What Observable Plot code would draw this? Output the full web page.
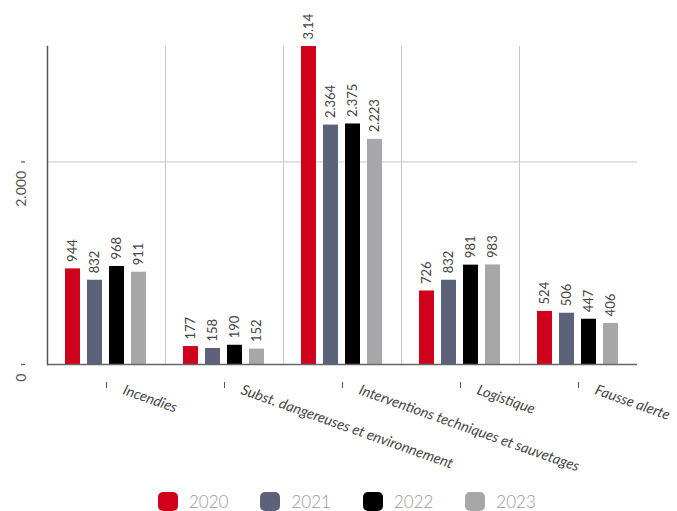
<!DOCTYPE html>
<html><head><meta charset="utf-8">
<script src="https://cdn.jsdelivr.net/npm/d3@7"></script>
<script src="https://cdn.jsdelivr.net/npm/@observablehq/plot@0.6"></script>
<style>
body{margin:0;background:#fff;font-family:Lato,sans-serif;}
#chart{position:relative;width:677px;height:511px;overflow:hidden}
#legend{position:absolute;left:158px;top:491px;height:20px;display:flex;align-items:center;}
.item{display:flex;align-items:center;margin-right:32px}
.sw{width:20px;height:19px;border-radius:5px;margin-right:11px}
.lb{font-size:17px;font-weight:300;color:#999;}
</style></head><body><div id="chart"></div><script>
const categories = ["Incendies","Subst. dangereuses et environnement","Interventions techniques et sauvetages","Logistique","Fausse alerte"];
const years = ["2020","2021","2022","2023"];
const values2020 = [944,177,3140,726,524];
const values2021 = [832,158,2364,832,506];
const values2022 = [968,190,2375,981,447];
const values2023 = [911,152,2223,983,406];
const labels2020 = ["944","177","3.14","726","524"];
const labels2021 = ["832","158","2.364","832","506"];
const labels2022 = ["968","190","2.375","981","447"];
const labels2023 = ["911","152","2.223","983","406"];
const colors = ["#d0021b","#5c6279","#000000","#a7a7a9"];
const yTicks = [0,2000];
const yTickLabels = ["0","2.000"];

const series = [values2020, values2021, values2022, values2023];
const labels = [labels2020, labels2021, labels2022, labels2023];
const rows = [];
years.forEach((y, i) => categories.forEach((c, j) => rows.push({category:c, year:y, value:series[i][j], label:labels[i][j]})));

const plot = Plot.plot({
  width: 677, height: 488,
  marginLeft: 46, marginRight: 39, marginTop: 46, marginBottom: 124,
  fx: {domain: categories, padding: 0, axis: null, label: null},
  x: {domain: years, paddingInner: 0.304, paddingOuter: 0.726, axis: null},
  y: {domain: [0, 3140], axis: null, label: null},
  color: {domain: years, range: colors},
  style: {fontFamily: "Lato, sans-serif", overflow: "visible", background: "#fff"},
  marks: [
    Plot.ruleY([2000], {stroke: "#c8c8c8"}),
    Plot.frame({anchor: "left", stroke: "#c8c8c8", strokeOpacity: 1}),
    Plot.barY(rows, {fx: "category", x: "year", y: "value", fill: "year"}),
    Plot.text(rows, {fx: "category", x: "year", y: "value", text: "label", rotate: -90, textAnchor: "start", dy: -7, fontSize: 13, fill: "#444"}),
    Plot.frame({anchor: "left", stroke: "#555", strokeWidth: 1.5, strokeOpacity: 1, facetAnchor: "left"}),
    Plot.ruleY([0], {stroke: "#666", strokeWidth: 1.5}),
    Plot.axisY(yTicks, {tickSize: 4, dx: -22, stroke: "#555", strokeWidth: 1.2, label: null, tickFormat: () => ""}),
    Plot.text(yTicks, {y: d => d, text: (d, i) => yTickLabels[i], frameAnchor: "left", facetAnchor: "left", rotate: -90, textAnchor: "end", lineAnchor: "bottom", dx: -22, dy: 9, fontSize: 14, fill: "#555"}),
    Plot.axisFx({anchor: "bottom", tickSize: 6, dy: 18, stroke: "#555", label: null, tickFormat: () => ""}),
    Plot.text(categories, {fx: d => d, text: d => d, frameAnchor: "bottom", rotate: 19.5, textAnchor: "start", lineAnchor: "middle", dx: 17, dy: 25, fontStyle: "italic", fontSize: 14.5, fill: "#444"})
  ]
});
const chart = document.getElementById("chart");
chart.appendChild(plot);
const legend = document.createElement("div");
legend.id = "legend";
years.forEach((y, i) => {
  const it = document.createElement("div"); it.className = "item";
  const sw = document.createElement("div"); sw.className = "sw"; sw.style.background = colors[i];
  const lb = document.createElement("span"); lb.className = "lb"; lb.textContent = y;
  it.appendChild(sw); it.appendChild(lb); legend.appendChild(it);
});
chart.appendChild(legend);
</script></body></html>
